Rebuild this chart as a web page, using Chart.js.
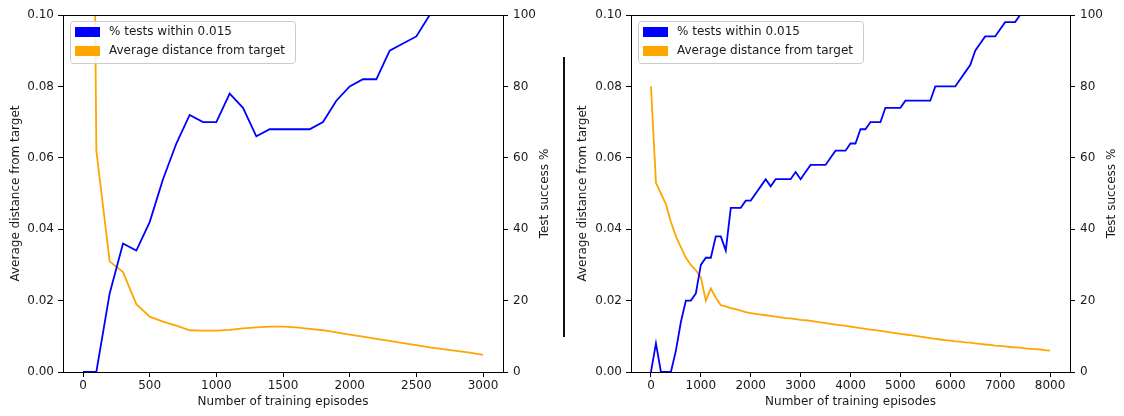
<!DOCTYPE html>
<html><head><meta charset="utf-8">
<script src="https://cdn.jsdelivr.net/npm/chart.js@4"></script>
<style>
html,body{margin:0;padding:0;background:#fff;}
#wrap{position:relative;width:1124px;height:416px;overflow:hidden;background:#fff;}
#c1{position:absolute;left:0;top:0;}
#c2{position:absolute;left:562px;top:0;}
#divider{position:absolute;left:563px;top:57px;width:2px;height:280px;background:#111;}
</style></head><body>
<div id="wrap">
<canvas id="c1" width="562" height="416"></canvas>
<canvas id="c2" width="562" height="416"></canvas>
<div id="divider"></div>
</div>
<script>
// ---------- data ----------
const seriesLabels = ['% tests within 0.015', 'Average distance from target'];
const xTitle = 'Number of training episodes';
const yLeftTitle = 'Average distance from target';
const yRightTitle = 'Test success %';

const episodesA = [0,100,200,300,400,500,600,700,800,900,1000,1100,1200,1300,1400,1500,1600,1700,1800,1900,2000,2100,2200,2300,2400,2500,2600,2700,2800,2900,3000];
const successA = [0,0,22,36,34,42,54,64,72,70, 70,78,74,66,68,68,68,68,70,76, 80,82,82,90,92,94,100,100,100,100, 100];
const distanceA = [0.5,0.062,0.031,0.028,0.019,0.0155,0.0141,0.0130,0.0117,0.0116, 0.0116,0.0118,0.0122,0.0125,0.0127,0.0127,0.0125,0.0121,0.0117,0.0111, 0.0105,0.0099,0.0093,0.0087,0.0081,0.0075,0.0069,0.0064,0.0059,0.0054, 0.0048];

const episodesB = [0,100,200,300,400,500,600,700,800,900,1000,1100,1200,1300,1400,1500,1600,1700,1800,1900,2000,2100,2200,2300,2400,2500,2600,2700,2800,2900,3000,3100,3200,3300,3400,3500,3600,3700,3800,3900,4000,4100,4200,4300,4400,4500,4600,4700,4800,4900,5000,5100,5200,5300,5400,5500,5600,5700,5800,5900,6000,6100,6200,6300,6400,6500,6600,6700,6800,6900,7000,7100,7200,7300,7400,7500,7600,7700,7800,7900,8000];
const successB = [0,8,0,0,0,6,14,20,20,22,
 30,32,32,38,38,34,46,46,46,48,
 48,50,52,54,52,54,54,54,54,56,
 54,56,58,58,58,58,60,62,62,62,
 64,64,68,68,70,70,70,74,74,74,
 74,76,76,76,76,76,76,80,80,80,
 80,80,82,84,86,90,92,94,94,94,
 96,98,98,98,100,100,100,100,100,100,
 100];
const distanceB = [0.080,0.053,0.050,0.047,0.042,0.038,0.035,0.032,0.030,0.0285,
 0.0265,0.020,0.0234,0.0208,0.0187,0.0184,0.0179,0.0176,0.0172,0.0168,
 0.0165,0.0163,0.0161,0.0159,0.0157,0.0155,0.0153,0.0151,0.0150,0.0148,
 0.0146,0.0145,0.0143,0.0141,0.0139,0.0137,0.0135,0.0133,0.0131,0.0129,
 0.0127,0.0125,0.0123,0.0121,0.0119,0.0117,0.0115,0.0113,0.0111,0.0109,
 0.0107,0.0105,0.0103,0.0101,0.0099,0.0097,0.0095,0.0093,0.0091,0.0089,
 0.0088,0.0086,0.0085,0.0083,0.0082,0.0080,0.0079,0.0077,0.0076,0.0074,
 0.0073,0.0072,0.0070,0.0069,0.0068,0.0066,0.0065,0.0064,0.0063,0.0061,
 0.0060];

const xTicksA = [0,500,1000,1500,2000,2500,3000];
const xTicksB = [0,1000,2000,3000,4000,5000,6000,7000,8000];
const yLeftTicks = [0,0.02,0.04,0.06,0.08,0.10];
const yRightTicks = [0,20,40,60,80,100];

// ---------- styling ----------
const FONT = {family:'"DejaVu Sans", sans-serif', size:12};
const TXT = '#1a1a1a';
const BLUE = '#0000ff';
const ORANGE = '#ffa500';

const frame = {
  id:'frame',
  afterDatasetsDraw(chart){
    const {ctx, chartArea:a} = chart;
    ctx.save();
    ctx.strokeStyle = '#000'; ctx.lineWidth = 1;
    ctx.strokeRect(Math.round(a.left)+0.5, Math.round(a.top)+0.5, Math.round(a.right-a.left), Math.round(a.bottom-a.top));
    ctx.restore();
  }
};
const legendBox = {
  id:'legendBox',
  afterDraw(chart){
    const {ctx, chartArea:a} = chart;
    const L = Math.round(a.left), T = Math.round(a.top);
    ctx.save();
    ctx.beginPath();
    ctx.roundRect(L+7.5, T+6.5, 225, 42, 3);
    ctx.fillStyle = 'rgba(255,255,255,0.8)'; ctx.fill();
    ctx.strokeStyle = '#cccccc'; ctx.lineWidth = 1; ctx.stroke();
    ctx.font = FONT.size + 'px ' + FONT.family;
    ctx.textBaseline = 'middle'; ctx.textAlign = 'left';
    chart.data.datasets.forEach((ds,i)=>{
      const cy = T + 17 + i*19;
      ctx.fillStyle = ds.borderColor;
      ctx.fillRect(L+12, cy-5, 25, 10);
      ctx.fillStyle = TXT;
      ctx.fillText(ds.label, L+46, cy);
    });
    ctx.restore();
  }
};
const rightTitle = {
  id:'rightTitle',
  afterDraw(chart, args, opts){
    const {ctx, chartArea:a} = chart;
    ctx.save();
    ctx.translate(chart.width - opts.offset, (a.top+a.bottom)/2);
    ctx.rotate(-Math.PI/2);
    ctx.font = FONT.size + 'px ' + FONT.family;
    ctx.fillStyle = TXT; ctx.textAlign = 'center'; ctx.textBaseline = 'middle';
    ctx.fillText(opts.text, 0, 0);
    ctx.restore();
  }
};

function pts(xs, ys){ return xs.map((x,i)=>({x:x, y:ys[i]})); }
function tickGrid(){ return {display:true, drawOnChartArea:false, drawTicks:true, tickLength:5, color:'#000', lineWidth:1}; }

function makeChart(id, cfg){
  return new Chart(document.getElementById(id), {
    type:'line',
    data:{datasets:[
      {label:seriesLabels[0], data:pts(cfg.ep, cfg.succ), yAxisID:'y2', borderColor:BLUE, backgroundColor:BLUE, borderWidth:1.8, pointRadius:0, tension:0},
      {label:seriesLabels[1], data:pts(cfg.ep, cfg.dist), yAxisID:'y', borderColor:ORANGE, backgroundColor:ORANGE, borderWidth:1.8, pointRadius:0, tension:0}
    ]},
    options:{
      responsive:false, animation:false, devicePixelRatio:1,
      layout:{padding:{top:15, left:0, right:0, bottom:0}},
      plugins:{legend:{display:false}, tooltip:{enabled:false}, rightTitle:{text:yRightTitle, offset:cfg.rtOffset}},
      scales:{
        x:{type:'linear', min:cfg.xmin, max:cfg.xmax,
           afterBuildTicks:s=>{s.ticks = cfg.xt.map(v=>({value:v}));},
           afterFit:s=>{s.height = 44;},
           grid:tickGrid(), border:{display:false},
           ticks:{font:FONT, color:TXT, padding:2, maxRotation:0, autoSkip:false, callback:v=>String(v)},
           title:{display:true, text:xTitle, font:FONT, color:TXT, padding:{top:0, bottom:7}}},
        y:{type:'linear', position:'left', min:0, max:0.1,
           afterBuildTicks:s=>{s.ticks = yLeftTicks.map(v=>({value:v}));},
           afterFit:s=>{s.width = cfg.lw;},
           grid:tickGrid(), border:{display:false},
           ticks:{font:FONT, color:TXT, padding:4, autoSkip:false, callback:v=>Number(v).toFixed(2)},
           title:{display:true, text:yLeftTitle, font:FONT, color:TXT, padding:{top:cfg.ltPad, bottom:0}}},
        y2:{type:'linear', position:'right', min:0, max:100,
           afterBuildTicks:s=>{s.ticks = yRightTicks.map(v=>({value:v}));},
           afterFit:s=>{s.width = cfg.rw;},
           grid:tickGrid(), border:{display:false},
           ticks:{font:FONT, color:TXT, padding:5, autoSkip:false, callback:v=>String(v)}}
      }
    },
    plugins:[frame, legendBox, rightTitle]
  });
}

makeChart('c1', {ep:episodesA, succ:successA, dist:distanceA, xt:xTicksA, xmin:-150, xmax:3150, lw:63, rw:59, ltPad:9, rtOffset:17});
makeChart('c2', {ep:episodesB, succ:successB, dist:distanceB, xt:xTicksB, xmin:-400, xmax:8400, lw:69, rw:54, ltPad:14, rtOffset:12});
</script>
</body></html>
